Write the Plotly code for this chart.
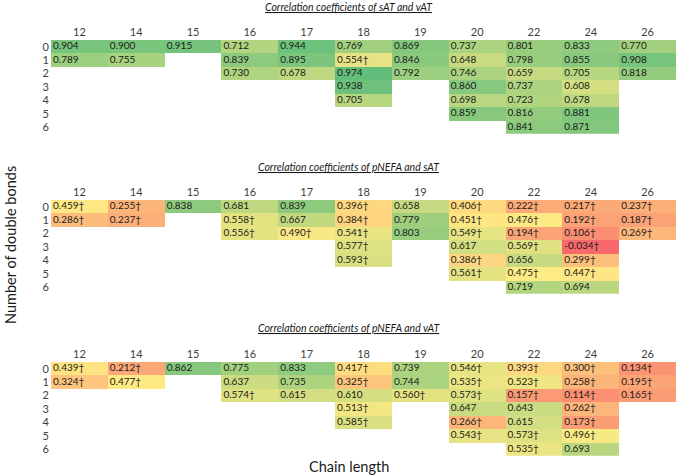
import numpy as np
import plotly.graph_objects as go

chain_length = ["12", "14", "15", "16", "17", "18", "19", "20", "22", "24", "26"]
double_bonds = ["0", "1", "2", "3", "4", "5", "6"]
N = None

sat_vat = [
    [0.904, 0.900, 0.915, 0.712, 0.944, 0.769, 0.869, 0.737, 0.801, 0.833, 0.770],
    [0.789, 0.755, N, 0.839, 0.895, 0.554, 0.846, 0.648, 0.798, 0.855, 0.908],
    [N, N, N, 0.730, 0.678, 0.974, 0.792, 0.746, 0.659, 0.705, 0.818],
    [N, N, N, N, N, 0.938, N, 0.860, 0.737, 0.608, N],
    [N, N, N, N, N, 0.705, N, 0.698, 0.723, 0.678, N],
    [N, N, N, N, N, N, N, 0.859, 0.816, 0.881, N],
    [N, N, N, N, N, N, N, N, 0.841, 0.871, N],
]

pnefa_sat = [
    [0.459, 0.255, 0.838, 0.681, 0.839, 0.396, 0.658, 0.406, 0.222, 0.217, 0.237],
    [0.286, 0.237, N, 0.558, 0.667, 0.384, 0.779, 0.451, 0.476, 0.192, 0.187],
    [N, N, N, 0.556, 0.490, 0.541, 0.803, 0.549, 0.194, 0.106, 0.269],
    [N, N, N, N, N, 0.577, N, 0.617, 0.569, -0.034, N],
    [N, N, N, N, N, 0.593, N, 0.386, 0.656, 0.299, N],
    [N, N, N, N, N, N, N, 0.561, 0.475, 0.447, N],
    [N, N, N, N, N, N, N, N, 0.719, 0.694, N],
]

pnefa_vat = [
    [0.439, 0.212, 0.862, 0.775, 0.833, 0.417, 0.739, 0.546, 0.393, 0.300, 0.134],
    [0.324, 0.477, N, 0.637, 0.735, 0.325, 0.744, 0.535, 0.523, 0.258, 0.195],
    [N, N, N, 0.574, 0.615, 0.610, 0.560, 0.573, 0.157, 0.114, 0.165],
    [N, N, N, N, N, 0.513, N, 0.647, 0.643, 0.262, N],
    [N, N, N, N, N, 0.585, N, 0.266, 0.615, 0.173, N],
    [N, N, N, N, N, N, N, 0.543, 0.573, 0.496, N],
    [N, N, N, N, N, N, N, N, 0.535, 0.693, N],
]

titles = [
    "Correlation coefficients of sAT and vAT",
    "Correlation coefficients of pNEFA and sAT",
    "Correlation coefficients of pNEFA and vAT",
]
panels = [sat_vat, pnefa_sat, pnefa_vat]
DAGGER_BELOW = 0.6  # cells marked with a dagger in the source

all_vals = np.array([[np.nan if v is None else v for v in r] for p in panels for r in p], dtype=float)
zmin, zmax = np.nanmin(all_vals), np.nanmax(all_vals)

colorscale = [[0.0, "#F8696B"], [0.5, "#FFEB84"], [1.0, "#63BE7B"]]
FONT = "Lato"

W, H = 679, 476
x_dom = [51 / W, 676 / W]
panel_tops = [40, 200, 362]
row_h = 13.4
title_y = [7, 167, 328]

fig = go.Figure()
xi = list(range(len(chain_length)))
yi = list(range(len(double_bonds)))

for k, data in enumerate(panels):
    suffix = "" if k == 0 else str(k + 1)
    xa, ya = "x" + suffix, "y" + suffix
    z = [[np.nan if v is None else v for v in r] for r in data]
    fig.add_trace(go.Heatmap(
        z=z, x=xi, y=yi, xaxis=xa, yaxis=ya,
        colorscale=colorscale, zmin=zmin, zmax=zmax,
        showscale=False, hoverongaps=False, xgap=0, ygap=0,
    ))
    tx, ty, tt = [], [], []
    for r, row in enumerate(data):
        for c, v in enumerate(row):
            if v is None:
                continue
            tx.append(c - 0.5 + 0.035)
            ty.append(r)
            tt.append(f"{v:.3f}" + ("†" if v < DAGGER_BELOW else ""))
    fig.add_trace(go.Scatter(
        x=tx, y=ty, text=tt, mode="text", textposition="middle right",
        textfont=dict(family=FONT, size=10, color="#1a1a1a"),
        xaxis=xa, yaxis=ya, hoverinfo="skip", showlegend=False, cliponaxis=False,
    ))
    top = panel_tops[k]
    bot = top + row_h * 7
    fig.update_layout(**{
        "xaxis" + suffix: dict(
            domain=x_dom, range=[-0.5, len(chain_length) - 0.5], side="top",
            tickmode="array", tickvals=xi, ticktext=chain_length,
            showgrid=False, zeroline=False, showline=False, ticks="",
            tickfont=dict(family=FONT, size=11, color="#404040"),
            anchor=ya, fixedrange=True, ticklabelstandoff=1,
        ),
        "yaxis" + suffix: dict(
            domain=[1 - bot / H, 1 - top / H], range=[len(double_bonds) - 0.5, -0.5],
            tickmode="array", tickvals=yi, ticktext=double_bonds,
            showgrid=False, zeroline=False, showline=False, ticks="",
            tickfont=dict(family=FONT, size=11, color="#404040"),
            anchor=xa, fixedrange=True, ticklabelstandoff=1,
        ),
    })
    fig.add_annotation(
        text=f"<u><i>{titles[k]}</i></u>", xref="paper", yref="paper",
        x=349 / W, y=1 - title_y[k] / H, showarrow=False, xanchor="center", yanchor="middle",
        font=dict(family=FONT, size=10.5, color="#1a1a1a"),
    )

fig.add_annotation(
    text="Chain length", xref="paper", yref="paper", x=349 / W, y=1 - 466 / H,
    showarrow=False, xanchor="center", yanchor="middle",
    font=dict(family=FONT, size=14.5, color="#1a1a1a"),
)
fig.add_annotation(
    text="Number of double bonds", xref="paper", yref="paper", x=11 / W, y=1 - 245 / H,
    showarrow=False, xanchor="center", yanchor="middle", textangle=-90,
    font=dict(family=FONT, size=14.5, color="#1a1a1a"),
)

fig.update_layout(
    width=W, height=H, margin=dict(l=0, r=0, t=0, b=0),
    paper_bgcolor="white", plot_bgcolor="white", showlegend=False,
    font=dict(family=FONT),
)

fig.write_html(
    "out.html",
    config={"displayModeBar": False},
    post_script="document.body.style.margin='0';document.body.style.overflow='hidden';",
)
